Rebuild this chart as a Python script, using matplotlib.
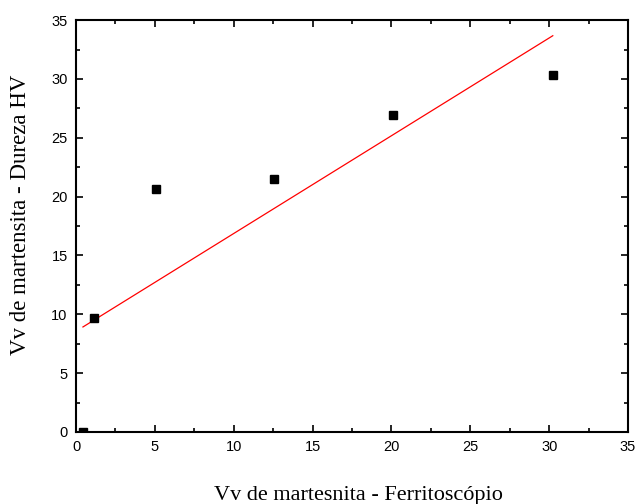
import numpy as np
import matplotlib
matplotlib.use('Agg')
import matplotlib.pyplot as plt
from matplotlib.ticker import MultipleLocator

x_ferrito = [0.44, 1.16, 5.05, 12.56, 20.08, 30.23]
y_dureza = [0.0, 9.71, 20.65, 21.5, 26.96, 30.3]

fig = plt.figure(figsize=(6.35, 5.04), dpi=100)
ax = fig.add_axes([0.1197, 0.1429, 0.8693, 0.8171])

ax.plot(x_ferrito, y_dureza, 's', color='black', markersize=6, zorder=3)

# linear fit
a, b = np.polyfit(x_ferrito, y_dureza, 1)
xs = np.array([min(x_ferrito), max(x_ferrito)])
ax.plot(xs, a * xs + b, color='red', linewidth=0.9)

ax.set_xlim(0, 35)
ax.set_ylim(0, 35)
ax.xaxis.set_major_locator(MultipleLocator(5))
ax.xaxis.set_minor_locator(MultipleLocator(2.5))
ax.yaxis.set_major_locator(MultipleLocator(5))
ax.yaxis.set_minor_locator(MultipleLocator(2.5))
ax.tick_params(which='both', direction='in', top=True, right=True, width=1.2,
               labelsize=10.5, labelfontfamily='Liberation Sans')
ax.tick_params(which='major', length=5, pad=6)
ax.tick_params(which='minor', length=3)
for s in ax.spines.values():
    s.set_linewidth(1.5)

ax.set_xlabel('Vv de martesnita - Ferritoscópio', fontsize=16,
              family='Liberation Serif', va='center')
ax.set_ylabel('Vv de martensita - Dureza HV', fontsize=16.5,
              family='Liberation Serif', va='center')
ax.xaxis.set_label_coords(0.512, -0.155)
ax.yaxis.set_label_coords(-0.1, 0.527)

fig.savefig('out.png', dpi=100)
